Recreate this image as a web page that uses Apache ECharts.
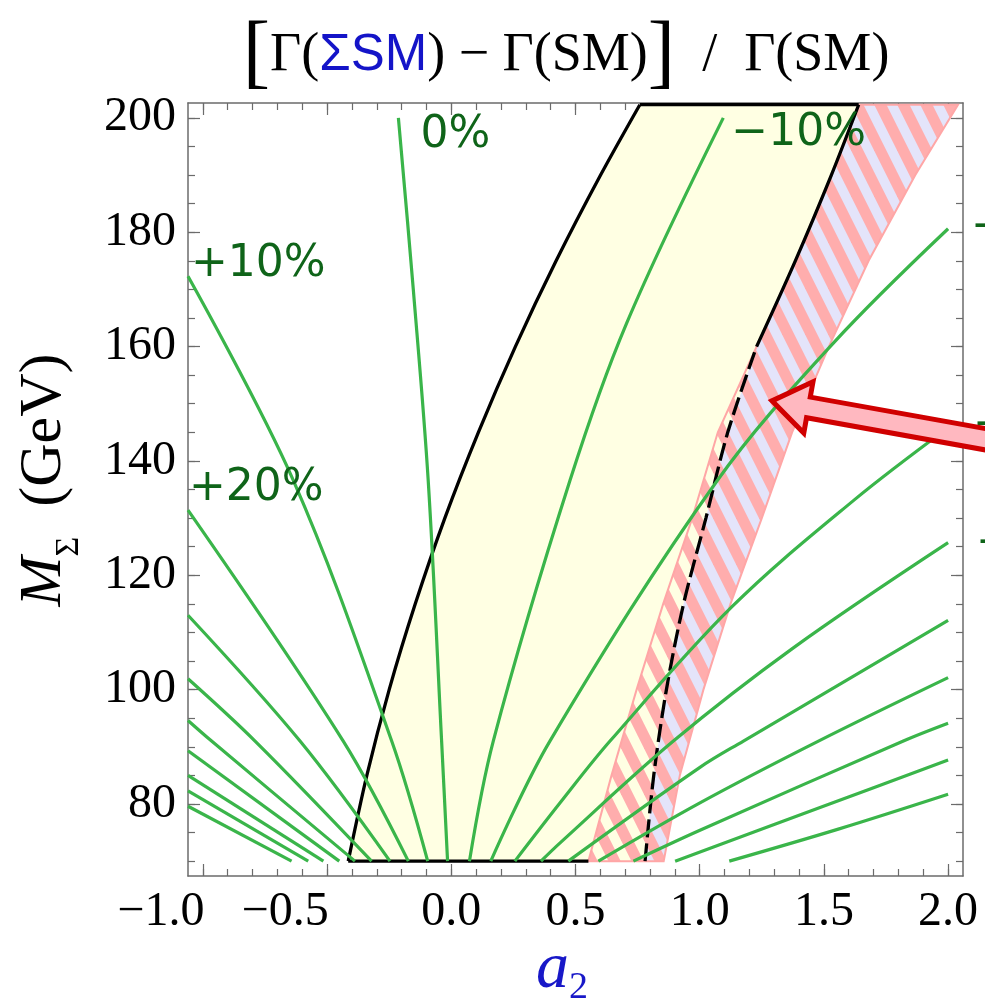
<!DOCTYPE html>
<html>
<head>
<meta charset="utf-8">
<script src="https://cdn.jsdelivr.net/npm/echarts@6.0.0/dist/echarts.min.js"></script>
<style>
html,body{margin:0;padding:0;background:#ffffff;}
#chart{width:985px;height:1007px;}
</style>
</head>
<body>
<div id="chart"></div>
<script>
// ---------------- axis ticks ----------------
const xMajorTicks = [-1.0, -0.5, 0.0, 0.5, 1.0, 1.5, 2.0];
const xMinorTicks = [-1.0,-0.9,-0.8,-0.7,-0.6,-0.5,-0.4,-0.3,-0.2,-0.1,0.0,0.1,0.2,0.3,0.4,0.5,0.6,0.7,0.8,0.9,1.0,1.1,1.2,1.3,1.4,1.5,1.6,1.7,1.8,1.9,2.0];
const yMajorTicks = [80, 100, 120, 140, 160, 180, 200];
const yMinorTicks = [70,75,80,85,90,95,100,105,110,115,120,125,130,135,140,145,150,155,160,165,170,175,180,185,190,195,200];

// ---------------- region boundaries (a2 at each M_Sigma) ----------------
const boundaryMass  = [70, 85, 100, 115, 130, 145, 160, 175, 190, 202.3];
const yellowLeftA2  = [-0.415, -0.340, -0.250, -0.145, -0.026, 0.109, 0.258, 0.422, 0.601, 0.759];
const yellowRightA2 = [0.780, 0.815, 0.866, 0.935, 1.025, 1.113, 1.229, 1.385, 1.530, 1.640];
const bandRightA2   = [0.855, 0.920, 1.015, 1.124, 1.250, 1.372, 1.520, 1.680, 1.868, 2.040];
const bandLeftMass  = [70, 85, 100, 115, 130, 145, 160];
const bandLeftA2    = [0.552, 0.645, 0.746, 0.853, 0.970, 1.073, 1.229];

// ---------------- contours of [Γ(ΣSM)−Γ(SM)]/Γ(SM) : [a2, M_Sigma] ----------------
const contourPlus90 = [[-1.06, 79.6], [-0.643, 70]];
const contourPlus80 = [[-1.06, 82.3], [-0.576, 70]];
const contourPlus70 = [[-1.06, 85.0], [-0.515, 70]];
const contourPlus60 = [[-1.06, 89.3], [-0.451, 70]];
const contourPlus50 = [[-1.06, 94.6], [-0.965, 91.0], [-0.388, 70]];
const contourPlus40 = [[-1.06, 101.9], [-0.790, 91.0], [-0.321, 70]];
const contourPlus30 = [[-1.06, 113.0], [-0.609, 91.0], [-0.247, 70]];
const contourPlus20 = [[-1.06, 131.4], [-0.435, 91.0], [-0.173, 70]];
const contourPlus10 = [[-1.06, 172.3], [-0.636, 136.6], [-0.240, 91.0], [-0.095, 70]];
const contourZero   = [[-0.213, 200], [-0.153, 170.0], [-0.093, 136.6], [-0.039, 91.0], [-0.015, 70]];
const contourMinus10 = [[0.073, 70], [0.169, 91.0], [0.478, 136.6], [0.706, 164.1], [1.095, 200]];
const contourMinus20 = [[0.159, 70], [0.397, 91.0], [1.068, 136.4], [1.538, 160.6], [2.0, 180.6]];
const contourMinus30 = [[0.256, 70], [0.438, 80.2], [0.639, 91.0], [1.130, 114.5], [1.620, 133.1], [2.0, 145.8]];
const contourMinus40 = [[0.361, 70], [0.438, 73.2], [0.894, 91.0], [1.377, 107.3], [2.0, 125.7]];
const contourMinus50 = [[0.471, 70], [1.001, 86.4], [1.176, 91.0], [2.0, 112.1]];
const contourMinus60 = [[0.592, 70], [1.001, 80.2], [1.478, 91.0], [2.0, 102.1]];
const contourMinus70 = [[0.733, 70], [1.001, 75.4], [1.820, 91.0], [2.0, 94.1]];
const contourMinus80 = [[0.901, 70], [1.498, 79.6], [2.0, 87.7]];
const contourMinus90 = [[1.119, 70], [1.558, 75.6], [2.0, 81.7]];

const contourLabels = ['+10%', '+20%', '0%', '−10%', '−20%', '−30%', '−40%'];

// arrow annotation tip [a2, M_Sigma]
const arrowTip = [1.291, 150.5];

// ---------------- build helpers ----------------
const allContours = [contourPlus90, contourPlus80, contourPlus70, contourPlus60, contourPlus50,
  contourPlus40, contourPlus30, contourPlus20, contourPlus10, contourZero,
  contourMinus10, contourMinus20, contourMinus30, contourMinus40, contourMinus50,
  contourMinus60, contourMinus70, contourMinus80, contourMinus90];

function zip(xs, ys) { return xs.map((x, i) => [x, ys[i]]); }
const yellowLeft = zip(yellowLeftA2, boundaryMass);
const yellowRight = zip(yellowRightA2, boundaryMass);
const bandRight = zip(bandRightA2, boundaryMass);
const bandLeftLow = zip(bandLeftA2, bandLeftMass);
const topMass = boundaryMass[boundaryMass.length - 1];

const yellowPoly = yellowLeft.concat(yellowRight.slice().reverse());
const lavenderPoly = yellowRight.concat(bandRight.slice().reverse());
const bandPoly = bandLeftLow.concat(yellowRight.filter(p => p[1] > 160)).concat(bandRight.slice().reverse());

function makeHatch() {
  const H = 46, W = H / 2;
  const c = document.createElement('canvas');
  c.width = W; c.height = H;
  const g = c.getContext('2d');
  g.strokeStyle = '#FFADAD';
  g.lineWidth = 11;
  for (let k = -4; k <= 4; k++) {
    g.beginPath();
    g.moveTo(-3 * W, 2 * (-3 * W) - k * H);
    g.lineTo(4 * W, 2 * (4 * W) - k * H);
    g.stroke();
  }
  return c;
}
const hatchCanvas = makeHatch();

function polygonSeries(points, style, z) {
  return {
    type: 'custom', coordinateSystem: 'cartesian2d', xAxisIndex: 0, yAxisIndex: 0,
    silent: true, z: z, clip: true, animation: false,
    data: [points[0]],
    renderItem: function (params, api) {
      return { type: 'polygon', shape: { points: points.map(p => api.coord(p)) }, style: style };
    }
  };
}
function lineSeries(data, color, width, type, z, smooth) {
  return {
    type: 'line', data: data, xAxisIndex: 0, yAxisIndex: 0, showSymbol: false, symbol: 'none',
    smooth: smooth, silent: true, z: z, animation: false, clip: true,
    lineStyle: { color: color, width: width, type: type, cap: 'butt' }
  };
}

const green = '#3AB54A';
const darkGreen = '#0F6419';
const series = [];
series.push(polygonSeries(yellowPoly, { fill: '#FFFFE3', stroke: null }, 1));
series.push(polygonSeries(lavenderPoly, { fill: '#E4E4FA', stroke: null }, 2));
series.push(polygonSeries(bandPoly, { fill: { image: hatchCanvas, repeat: 'repeat' }, stroke: '#FFA6A6', lineWidth: 2 }, 3));

// black boundaries
series.push(lineSeries([[yellowLeftA2[0], boundaryMass[0]], [bandLeftA2[0], boundaryMass[0]]], '#000', 3.3, 'solid', 5, false));
series.push(lineSeries(yellowLeft, '#000', 3.3, 'solid', 5, 0.3));
series.push(lineSeries([[yellowLeftA2[yellowLeftA2.length - 1], topMass], [yellowRightA2[yellowRightA2.length - 1], topMass]], '#000', 3.3, 'solid', 5, false));
series.push(lineSeries(yellowRight.filter(p => p[1] >= 160), '#000', 3.3, 'solid', 5, 0.3));
series.push(lineSeries(yellowRight.filter(p => p[1] <= 160), '#000', 3.3, [18, 6], 5, 0.3));

// contours
allContours.forEach(c => series.push(lineSeries(c, green, 3.2, 'solid', 6, 0.35)));

// contour labels attached to line ends
const first = a => a[0], last = a => a[a.length - 1];
const labelAnchors = [
  [first(contourPlus10), [3, -12]],
  [first(contourPlus20), [1, -22]],
  [first(contourZero), [22, 18]],
  [last(contourMinus10), [8, 16]],
  [last(contourMinus20), [23, -1]],
  [last(contourMinus30), [25, -2]],
  [last(contourMinus40), [28, 1]]
];
series.push({
  type: 'scatter', xAxisIndex: 0, yAxisIndex: 0, symbolSize: 0, silent: true, z: 8, clip: false, animation: false,
  itemStyle: { opacity: 1 },
  data: labelAnchors.map((a, i) => ({
    value: a[0],
    label: { show: true, formatter: contourLabels[i], position: 'right', distance: 0, offset: a[1] }
  })),
  label: { show: true, color: darkGreen, opacity: 1, fontFamily: 'DejaVu Sans', fontSize: 44 }
});

// arrow
series.push({
  type: 'custom', coordinateSystem: 'cartesian2d', xAxisIndex: 0, yAxisIndex: 0,
  clip: false, z: 20, silent: true, animation: false,
  data: [arrowTip],
  renderItem: function (params, api) {
    const t = api.coord([api.value(0), api.value(1)]);
    const ang = 10.2 * Math.PI / 180, c = Math.cos(ang), s = Math.sin(ang);
    const local = [[0, 0], [37, -26], [37, -10.5], [340, -10.5], [340, 10.5], [37, 10.5], [37, 26]];
    const pts = local.map(p => [t[0] + p[0] * c - p[1] * s, t[1] + p[0] * s + p[1] * c]);
    return { type: 'polygon', shape: { points: pts },
      style: { fill: '#FFB8C0', stroke: '#D00000', lineWidth: 5, lineJoin: 'miter' } };
  }
});

// ---------------- axes ----------------
const frameColor = '#6b6b6b';
const fmtX = v => v < 0 ? '{n|−' + Math.abs(v).toFixed(1) + '}' : '{p|' + v.toFixed(1) + '}';
const tickFont = { fontFamily: 'Liberation Serif', fontSize: 48, color: '#000' };
function xAx(pos, ticks, len, line, label) {
  return {
    type: 'value', gridIndex: 0, position: pos, min: -1.06, max: 2.06,
    axisLine: { show: line, onZero: false, lineStyle: { color: frameColor, width: 1.5 } },
    axisTick: { show: true, inside: true, length: len, customValues: ticks, lineStyle: { color: frameColor, width: 1.2 } },
    axisLabel: { show: label, customValues: xMajorTicks, formatter: fmtX, margin: 12,
      fontFamily: 'Liberation Serif', fontSize: 48, color: '#000',
      rich: { n: Object.assign({ padding: [0, 84, 0, 0] }, tickFont), p: Object.assign({}, tickFont) } },
    splitLine: { show: false }, minorTick: { show: false }
  };
}
function yAx(pos, ticks, len, line, label) {
  return {
    type: 'value', gridIndex: 0, position: pos, min: 67.4, max: 202.6,
    axisLine: { show: line, onZero: false, lineStyle: { color: frameColor, width: 1.5 } },
    axisTick: { show: true, inside: true, length: len, customValues: ticks, lineStyle: { color: frameColor, width: 1.2 } },
    axisLabel: { show: label, customValues: yMajorTicks, formatter: v => String(v), fontFamily: 'Liberation Serif', fontSize: 48, color: '#000', margin: 12 },
    splitLine: { show: false }, minorTick: { show: false }
  };
}

const option = {
  backgroundColor: '#ffffff',
  animation: false,
  grid: { left: 188, top: 103, width: 775, height: 773, containLabel: false, outerBoundsMode: 'none' },
  xAxis: [xAx('bottom', xMajorTicks, 12, true, true), xAx('bottom', xMinorTicks, 7, false, false),
          xAx('top', xMajorTicks, 12, true, false), xAx('top', xMinorTicks, 7, false, false)],
  yAxis: [yAx('left', yMajorTicks, 12, true, true), yAx('left', yMinorTicks, 7, false, false),
          yAx('right', yMajorTicks, 12, true, false), yAx('right', yMinorTicks, 7, false, false)],
  series: series,
  graphic: [
    { type: 'text', x: 566, y: 56, silent: true,
      style: { text: '{br|[}{g|Γ(}{b|ΣSM}{g|) − Γ(SM)}{br|]}{g|  /  Γ(SM)}',
        align: 'center', verticalAlign: 'middle', textAlign: 'center', textVerticalAlign: 'middle',
        rich: {
          br: { fontFamily: 'Liberation Serif', fontSize: 82, fill: '#000', color: '#000', fontWeight: 'lighter' },
          g: { fontFamily: 'Liberation Serif', fontSize: 54, fill: '#000', color: '#000' },
          b: { fontFamily: 'Liberation Sans', fontSize: 51, fill: '#1414C8', color: '#1414C8' }
        } } },
    { type: 'text', x: 50, y: 480, rotation: Math.PI / 2, silent: true,
      style: { text: '{m|M}{s|Σ}{g|  (GeV)}',
        align: 'center', verticalAlign: 'middle', textAlign: 'center', textVerticalAlign: 'middle',
        rich: {
          m: { fontFamily: 'Liberation Serif', fontStyle: 'italic', fontSize: 60, fill: '#000', color: '#000', lineHeight: 72, verticalAlign: 'top' },
          s: { fontFamily: 'Liberation Serif', fontSize: 34, fill: '#000', color: '#000', lineHeight: 34, verticalAlign: 'bottom' },
          g: { fontFamily: 'Liberation Serif', fontSize: 60, fill: '#000', color: '#000', lineHeight: 72, verticalAlign: 'top' }
        } } },
    { type: 'text', x: 562, y: 972, silent: true,
      style: { text: '{a|a}{s|2}',
        align: 'center', verticalAlign: 'middle', textAlign: 'center', textVerticalAlign: 'middle',
        rich: {
          a: { fontFamily: 'Liberation Serif', fontStyle: 'italic', fontSize: 66, fill: '#1818C8', color: '#1818C8', lineHeight: 70, verticalAlign: 'top' },
          s: { fontFamily: 'Liberation Serif', fontSize: 38, fill: '#1818C8', color: '#1818C8', lineHeight: 38, verticalAlign: 'bottom' }
        } } }
  ]
};

const chart = echarts.init(document.getElementById('chart'), null, { renderer: 'canvas', width: 985, height: 1007 });
chart.setOption(option);
</script>
</body>
</html>
